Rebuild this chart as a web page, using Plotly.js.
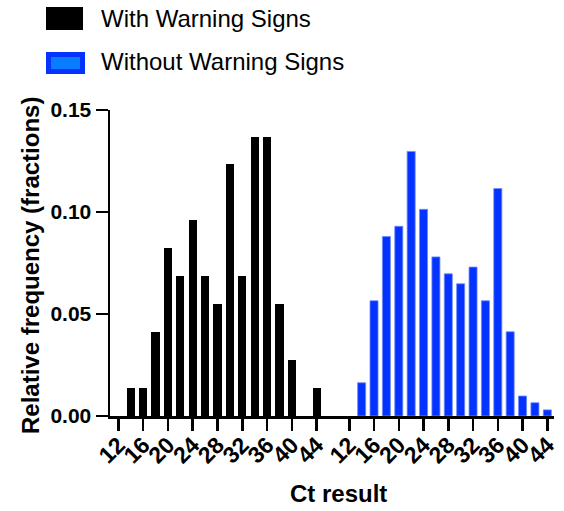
<!DOCTYPE html>
<html>
<head>
<meta charset="utf-8">
<script src="https://cdn.plot.ly/plotly-3.0.1.min.js"></script>
<style>html,body{margin:0;padding:0;background:#fff;}#chart{width:564px;height:511px;}</style>
</head>
<body>
<div id="chart"></div>
<script>
// ---- data ----
const ctBins = [14, 16, 18, 20, 22, 24, 26, 28, 30, 32, 34, 36, 38, 40, 42, 44];
const withWarning = [0.0137, 0.0137, 0.0411, 0.0822, 0.0685, 0.0959, 0.0685, 0.0548, 0.1233, 0.0685, 0.1370, 0.1370, 0.0548, 0.0274, 0.0, 0.0137];
const withoutWarning = [0.0163, 0.0565, 0.0880, 0.0930, 0.1297, 0.1013, 0.0780, 0.0697, 0.0648, 0.0730, 0.0565, 0.1115, 0.0413, 0.0098, 0.0065, 0.0030];
const tickLabels = [12, 16, 20, 24, 28, 32, 36, 40, 44];
const yTicks = [0, 0.05, 0.10, 0.15];
const seriesNames = ["With Warning Signs", "Without Warning Signs"];
const xTitle = "Ct result";
const yTitle = "Relative frequency (fractions)";

// ---- geometry (pixels) ----
const W = 564, H = 511;
const L = 110, R = 554, T = 110, B = 416;
const px = x => (x - L) / (R - L);
const py = y => (B - y) / (B - T);

const FONT = "Liberation Sans, Arial, sans-serif";
const blue = "#0433ff";

const traces = [
  {type: "bar", x: ctBins, y: withWarning, name: seriesNames[0], xaxis: "x", yaxis: "y",
   width: 1.3, marker: {color: "#000000", line: {width: 0}}, showlegend: false, hoverinfo: "skip"},
  {type: "bar", x: ctBins, y: withoutWarning, name: seriesNames[1], xaxis: "x2", yaxis: "y",
   width: 1.3, marker: {color: blue, line: {color: "#6f8bff", width: 0.8}}, showlegend: false, hoverinfo: "skip"}
];

const brk = 333;
function xAxis(domain, range) {
  return {
    domain: domain, range: range,
    showline: true, linecolor: "#000", linewidth: 2.5,
    ticks: "outside", ticklen: 12, tickwidth: 2.5, tickcolor: "#000",
    tickmode: "array", tickvals: tickLabels, ticktext: tickLabels.map(String), tickangle: -45,
    ticklabelstandoff: -8,
    tickfont: {family: FONT, size: 23, color: "#000", weight: "bold"},
    showgrid: false, zeroline: false, fixedrange: true, anchor: "y"
  };
}

const layout = {
  width: W, height: H,
  margin: {l: L, r: W - R, t: T, b: H - B, pad: 0},
  paper_bgcolor: "#fff", plot_bgcolor: "#fff",
  bargap: 0,
  font: {family: FONT, color: "#000"},
  xaxis: xAxis([0, px(brk)], [10.66, 46.63]),
  xaxis2: xAxis([px(brk), 1], [9.37, 45.08]),
  yaxis: {
    range: [0, 0.15], tickvals: yTicks, tickformat: ".2f",
    showline: true, linecolor: "#000", linewidth: 2.5,
    ticks: "outside", ticklen: 12, tickwidth: 2.5, tickcolor: "#000",
    tickfont: {family: FONT, size: 21, color: "#000", weight: "bold"},
    showgrid: false, zeroline: false, fixedrange: true, anchor: "x"
  },
  shapes: [
    {type: "rect", xref: "paper", yref: "paper", x0: px(46), x1: px(83), y0: py(30), y1: py(7),
     fillcolor: "#000", line: {width: 0}},
    {type: "rect", xref: "paper", yref: "paper", x0: px(48.5), x1: px(82.5), y0: py(71.5), y1: py(54.5),
     fillcolor: "#0a7cff", line: {color: blue, width: 5}}
  ],
  annotations: [
    {xref: "paper", yref: "paper", x: px(99), y: py(19), xanchor: "left", yanchor: "middle",
     text: seriesNames[0], showarrow: false, font: {family: FONT, size: 24, color: "#000"}},
    {xref: "paper", yref: "paper", x: px(99), y: py(62), xanchor: "left", yanchor: "middle",
     text: seriesNames[1], showarrow: false, font: {family: FONT, size: 24, color: "#000"}},
    {xref: "paper", yref: "paper", x: px(338), y: py(493), xanchor: "center", yanchor: "middle",
     text: xTitle, showarrow: false, font: {family: FONT, size: 24, color: "#000", weight: "bold"}},
    {xref: "paper", yref: "paper", x: px(30), y: py(266), xanchor: "center", yanchor: "middle",
     text: yTitle, textangle: -90, showarrow: false, font: {family: FONT, size: 24, color: "#000", weight: "bold"}}
  ]
};

Plotly.newPlot("chart", traces, layout, {staticPlot: true, displayModeBar: false});
</script>
</body>
</html>
